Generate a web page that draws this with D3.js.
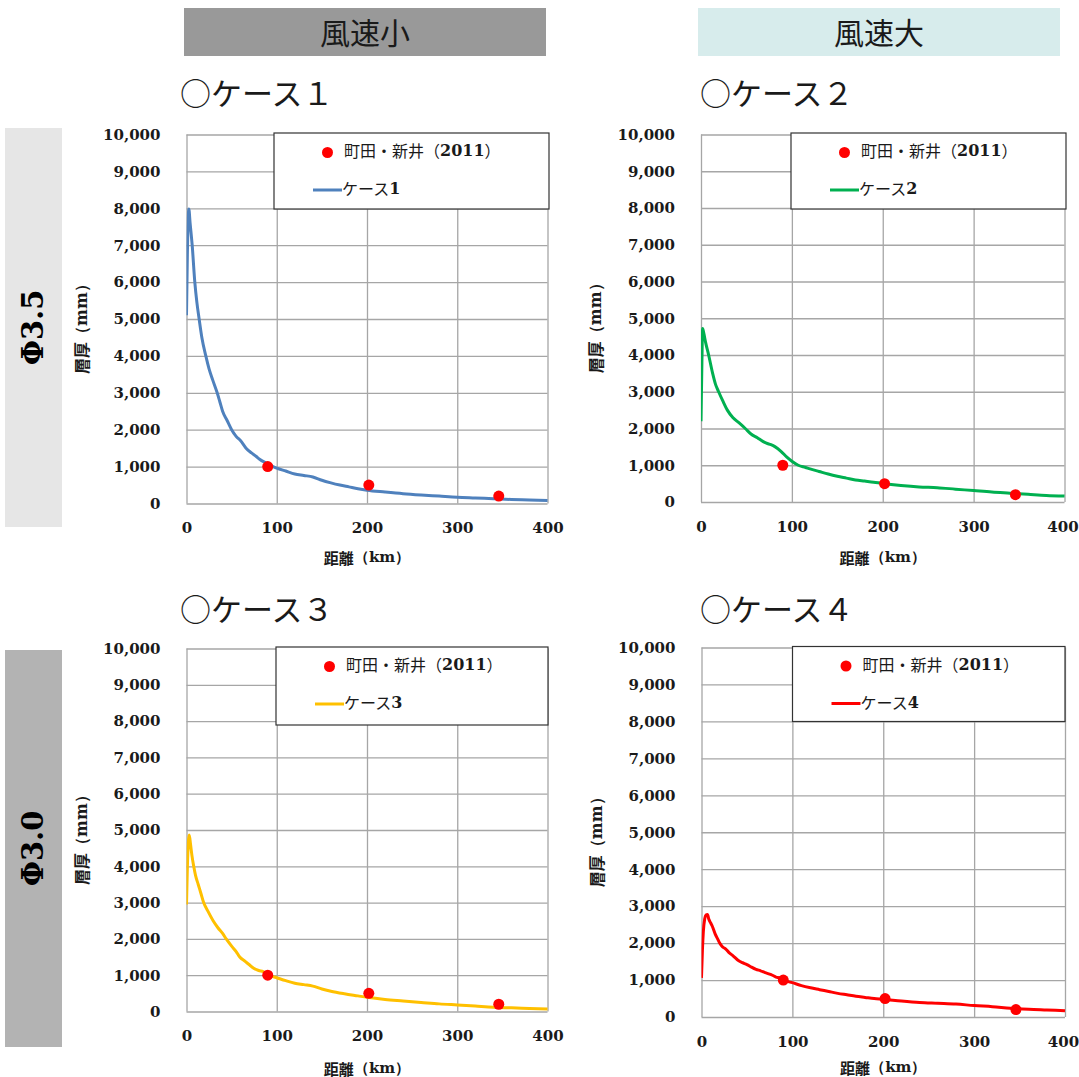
<!DOCTYPE html>
<html><head><meta charset="utf-8">
<script src="https://cdn.jsdelivr.net/npm/d3@7"></script>
<style>body{margin:0;background:#fff}svg{display:block}</style>
</head><body>
<svg id="c" width="1079" height="1077"></svg>
<script>
// ---- data ----
const xTicks = [0, 100, 200, 300, 400];
const yTicks = [0, 1000, 2000, 3000, 4000, 5000, 6000, 7000, 8000, 9000, 10000];
const obsName = "町田・新井";
const obsYear = "2011";
const obsData = [[90, 1000], [202, 500], [346, 200]];
const case1 = [[0,5100],[1,6800],[2.6,7980],[4,7600],[6.3,7000],[9.2,6000],[11.5,5450],[14,5000],[17,4500],[21.4,4000],[25,3650],[29,3350],[34,3000],[37,2750],[40,2500],[45,2250],[50,2000],[55,1820],[60,1700],[66,1500],[72,1370],[77,1280],[81,1200],[88,1100],[96,1000],[100,960],[110,880],[120,800],[130,760],[140,720],[150,630],[160,560],[170,500],[180,450],[190,400],[200,360],[220,310],[240,265],[260,230],[280,200],[300,170],[320,150],[340,130],[360,110],[380,95],[400,80]];
const case2 = [[0,2200],[1,3800],[1.8,4720],[3,4600],[5,4350],[8.4,4000],[12.8,3500],[16,3200],[19.4,3000],[24,2750],[29,2500],[35,2300],[42,2150],[48.7,2000],[55,1850],[62,1750],[68,1650],[72,1600],[77,1560],[81.7,1500],[88,1380],[94.5,1220],[100,1110],[107,1000],[115,940],[120,900],[130,830],[140,760],[150,700],[160,650],[170,600],[180,570],[190,540],[200,505],[220,450],[240,410],[260,390],[280,350],[300,310],[320,270],[340,240],[360,210],[380,180],[400,160]];
const case3 = [[0,2950],[1,4000],[3,4860],[4.5,4600],[6,4300],[8,4000],[10,3750],[13,3500],[16,3250],[19,3000],[24,2750],[29.5,2500],[35,2300],[40,2150],[44,2000],[50,1800],[55,1650],[59,1500],[65,1380],[70,1280],[74,1200],[80,1130],[85,1100],[90,1020],[95,970],[100,930],[110,850],[120,780],[130,740],[140,700],[150,620],[160,560],[175,490],[190,430],[200,390],[220,330],[240,290],[260,250],[280,210],[300,180],[320,150],[340,120],[360,100],[380,85],[400,70]];
const case4 = [[0,1060],[1,1800],[2,2300],[3.5,2650],[5,2760],[6.6,2775],[8,2650],[10,2550],[12,2450],[15,2250],[18,2100],[20,2000],[23,1900],[26.7,1840],[30,1750],[35,1650],[41,1520],[45,1470],[50,1420],[55,1350],[60,1290],[65,1250],[70,1200],[75,1160],[78,1130],[82,1080],[86,1060],[90,1000],[100,930],[110,850],[120,790],[130,740],[140,690],[150,640],[160,600],[170,560],[180,530],[190,500],[200,480],[220,430],[240,390],[260,370],[280,350],[300,310],[320,280],[340,240],[360,210],[380,190],[400,170]];
const caseNames = ["ケース", "ケース", "ケース", "ケース"];
const caseNums = ["1", "2", "3", "4"];
const titles = ["○ケース１", "○ケース２", "○ケース３", "○ケース４"];
const headers = ["風速小", "風速大"];
const sideLabels = ["Φ3.5", "Φ3.0"];
const xTitle = ["距離", "（km）"];
const yTitle = ["層厚", "（mm）"];

// ---- styles / layout ----
const JP = "'Noto Sans CJK JP', 'Noto Sans', sans-serif";
const SERIF = "'DejaVu Serif', 'Liberation Serif', serif";
const colors = ["#4f81bd", "#00b050", "#ffc000", "#ff0000"];
const series = [case1, case2, case3, case4];
const panels = [
  {x0:186.5, x1:547.5, y0:134.5, y1:503.5, tx:180, ty:91, xty:557, leg:[274,133,549,209]},
  {x0:701,   x1:1064.5, y0:134.5, y1:502,  tx:700, ty:91, xty:557, leg:[791,133,1066,209]},
  {x0:186.5, x1:547.5, y0:648.5, y1:1011.5, tx:180, ty:607, xty:1068, leg:[276,647,548,725]},
  {x0:701.5, x1:1065, y0:647.5, y1:1017, tx:700, ty:607, xty:1067, leg:[792.5,646.5,1065,721.5]}
];

const svg = d3.select("#c");

// headers
const hdr = [{x:184,w:362,fill:"#999999"},{x:698,w:362,fill:"#d7ecec"}];
hdr.forEach((h,i)=>{
  svg.append("rect").attr("x",h.x).attr("y",8).attr("width",h.w).attr("height",48).attr("fill",h.fill);
  svg.append("text").attr("x",h.x+h.w/2).attr("y",31).attr("text-anchor","middle")
    .attr("dominant-baseline","central").attr("font-family",JP).attr("font-size",30)
    .attr("fill","#1a1a1a").text(headers[i]);
});
// side labels
const side = [{y:128,h:399,fill:"#e6e6e6"},{y:650,h:397,fill:"#b3b3b3"}];
side.forEach((s,i)=>{
  svg.append("rect").attr("x",5).attr("y",s.y).attr("width",57).attr("height",s.h).attr("fill",s.fill);
  svg.append("text").attr("transform",`translate(33,${s.y+s.h/2}) rotate(-90)`)
    .attr("text-anchor","middle").attr("dominant-baseline","central")
    .attr("font-family",SERIF).attr("font-weight","bold").attr("font-size",29).attr("fill","#000")
    .text(sideLabels[i]);
});

panels.forEach((p,i)=>{
  const g = svg.append("g");
  const x = d3.scaleLinear().domain([0,400]).range([p.x0,p.x1]);
  const y = d3.scaleLinear().domain([0,10000]).range([p.y1,p.y0]);
  // title
  g.append("text").attr("x",p.tx).attr("y",p.ty).attr("dominant-baseline","central")
    .attr("font-family",JP).attr("font-size",31).attr("fill","#1a1a1a").text(titles[i]);
  // grid
  const gy = g.append("g").attr("transform",`translate(${p.x0},0)`)
    .call(d3.axisLeft(y).tickValues(yTicks).tickSize(-(p.x1-p.x0)).tickFormat(d3.format(",")).tickPadding(26));
  gy.select(".domain").remove();
  gy.selectAll("line").attr("stroke","#a6a6a6").attr("stroke-width",1.3);
  gy.selectAll("text").attr("font-family",SERIF).attr("font-weight","bold").attr("font-size",15).attr("fill","#1a1a1a");
  const gx = g.append("g").attr("transform",`translate(0,${p.y1})`)
    .call(d3.axisBottom(x).tickValues(xTicks).tickSize(-(p.y1-p.y0)).tickPadding(19));
  gx.select(".domain").remove();
  gx.selectAll("line").attr("stroke","#a6a6a6").attr("stroke-width",1.3);
  gx.selectAll("text").attr("font-family",SERIF).attr("font-weight","bold").attr("font-size",15).attr("fill","#1a1a1a");
  if (p.x1 > 1000) gx.selectAll("text").filter(d=>d===400).attr("dx",-2);
  // axis titles
  const xt = g.append("text").attr("x",(p.x0+p.x1)/2).attr("y",p.xty).attr("text-anchor","middle")
    .attr("dominant-baseline","central").attr("font-weight","bold").attr("font-size",15).attr("fill","#1a1a1a");
  xt.append("tspan").attr("font-family",JP).text(xTitle[0]);
  xt.append("tspan").attr("font-family",SERIF).text(xTitle[1]);
  const yt = g.append("text").attr("transform",`translate(${p.x0-106},${(p.y0+p.y1)/2+6}) rotate(-90)`)
    .attr("text-anchor","middle").attr("dominant-baseline","central").attr("font-weight","bold")
    .attr("font-size",16).attr("fill","#1a1a1a");
  yt.append("tspan").attr("font-family",JP).text(yTitle[0]);
  yt.append("tspan").attr("font-family",SERIF).text(yTitle[1]);
  // line
  const line = d3.line().x(d=>x(d[0])).y(d=>y(d[1])).curve(d3.curveMonotoneX);
  const clipId = "clip"+i;
  g.append("clipPath").attr("id",clipId).append("rect").attr("x",p.x0).attr("y",p.y0-5).attr("width",p.x1-p.x0+3).attr("height",p.y1-p.y0+10);
  g.append("path").datum(series[i]).attr("d",line).attr("fill","none").attr("stroke",colors[i])
    .attr("stroke-width",3).attr("stroke-linejoin","round").attr("clip-path",`url(#${clipId})`);
  // observations
  g.selectAll("circle.obs").data(obsData).join("circle").attr("class","obs")
    .attr("cx",d=>x(d[0])).attr("cy",d=>y(d[1])).attr("r",5.5).attr("fill","#ff0000");
  // legend
  const [lx0,ly0,lx1,ly1] = p.leg;
  g.append("rect").attr("x",lx0).attr("y",ly0).attr("width",lx1-lx0).attr("height",ly1-ly0)
    .attr("fill","#fff").attr("stroke","#333").attr("stroke-width",1.2);
  g.append("circle").attr("cx",lx0+53.5).attr("cy",ly0+19.5).attr("r",5.5).attr("fill","#ff0000");
  const t1 = g.append("text").attr("x",lx0+70).attr("y",ly0+17).attr("dominant-baseline","central")
    .attr("font-size",16).attr("fill","#1a1a1a");
  t1.append("tspan").attr("font-family",JP).text(obsName + "（");
  t1.append("tspan").attr("font-family",SERIF).attr("font-weight","bold").text(obsYear);
  t1.append("tspan").attr("font-family",JP).text("）");
  g.append("line").attr("x1",lx0+39).attr("x2",lx0+68).attr("y1",ly0+57).attr("y2",ly0+57)
    .attr("stroke",colors[i]).attr("stroke-width",3);
  const t2 = g.append("text").attr("x",lx0+68).attr("y",ly0+55).attr("dominant-baseline","central")
    .attr("font-size",16).attr("fill","#1a1a1a");
  t2.append("tspan").attr("font-family",JP).text(caseNames[i]);
  t2.append("tspan").attr("font-family",SERIF).attr("font-weight","bold").text(caseNums[i]);
});
</script>
</body></html>
